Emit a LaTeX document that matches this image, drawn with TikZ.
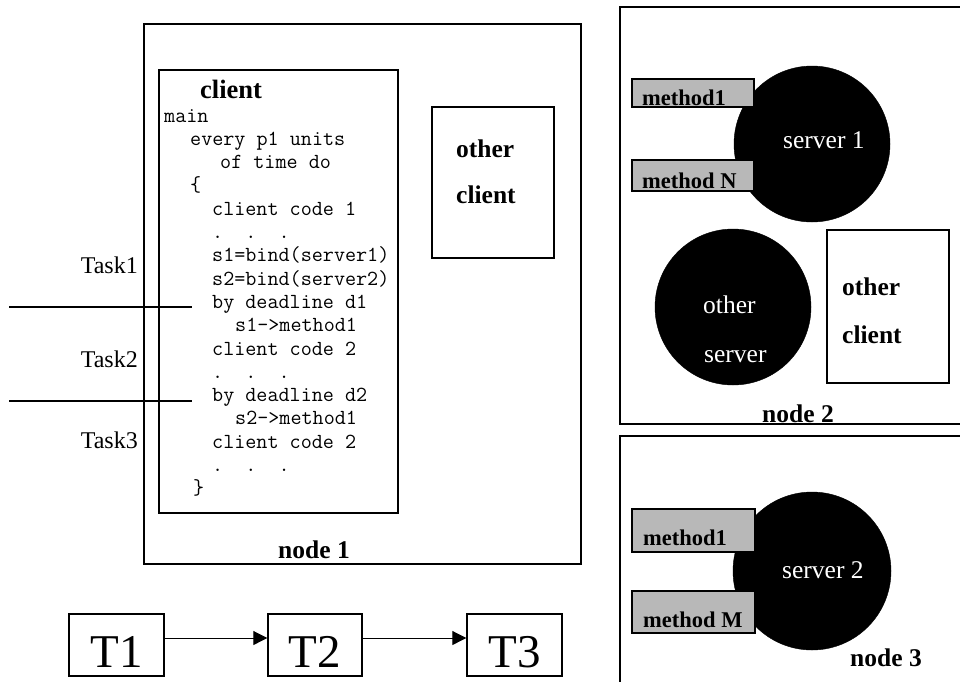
\documentclass[tikz,border=0pt]{standalone}
\usepackage{fontspec}
\setmainfont{Liberation Serif}
\usetikzlibrary{arrows.meta}
\begin{document}
\begin{tikzpicture}[x=1pt,y=-1pt,
  frame/.style={draw=black,line width=2pt,fill=white,inner sep=0pt,rectangle},
  mbox/.style={draw=black,line width=1.6pt,fill=black!28,inner sep=0pt,rectangle},
  tbox/.style={draw=black,line width=1.4pt,fill=white,inner sep=0pt,rectangle,minimum width=95pt,minimum height=62pt},
  srv/.style={circle,fill=black,draw=black,inner sep=0pt},
  lbl/.style={anchor=base west,inner sep=0pt,font=\fontsize{25.5}{25.5}\selectfont\bfseries},
  wlbl/.style={anchor=base west,inner sep=0pt,text=white,font=\fontsize{25.5}{25.5}\selectfont},
  mlbl/.style={anchor=base west,inner sep=0pt,font=\fontsize{22.5}{22.5}\selectfont\bfseries},
  code/.style={anchor=base west,inner sep=0pt,font=\ttfamily\fontsize{21.5}{21.5}\selectfont},
  task/.style={anchor=base east,inner sep=0pt,font=\fontsize{24}{24}\selectfont},
  tlbl/.style={anchor=base,inner sep=0pt,font=\fontsize{47}{47}\selectfont},
  tline/.style={line width=1.5pt},
  tarrow/.style={line width=1pt,-{Triangle[length=14pt,width=14pt]}}
]
\clip (0,0) rectangle (960,681);
\fill[white] (0,0) rectangle (960,681);

% node 1
\node[frame,minimum width=437pt,minimum height=540pt] (n1) at (362.5,294) {};
\node[frame,minimum width=239pt,minimum height=443pt] (cl) at (278.5,291.5) {};
\node[frame,minimum width=122pt,minimum height=151pt] (oc1) at (493,182.5) {};
\node[lbl,font=\fontsize{26.5}{26.5}\selectfont\bfseries] (cltitle) at (200,98) {client};
\node[lbl] (oc1a) at (456,157) {other};
\node[lbl] (oc1b) at (456,203) {client};
\node[lbl] (n1lbl) at (278,558) {node 1};

\node[code] (c1) at (164,122) {main};
\node[code] (c2) at (190,145.3) {every p1 units};
\node[code] (c3) at (220,168.6) {of time do};
\node[code] (c4) at (190,191.9) {\{};
\node[code] (c5) at (212,215.2) {client code 1};
\node[code] (c6) at (212,238.5) {.\ \ .\ \ .};
\node[code] (c7) at (212,261.8) {s1=bind(server1)};
\node[code] (c8) at (212,285.1) {s2=bind(server2)};
\node[code] (c9) at (212,308.4) {by deadline d1};
\node[code] (c10) at (235,331.7) {s1->method1};
\node[code] (c11) at (212,355) {client code 2};
\node[code] (c12) at (212,378.3) {.\ \ .\ \ .};
\node[code] (c13) at (212,401.6) {by deadline d2};
\node[code] (c14) at (235,424.9) {s2->method1};
\node[code] (c15) at (212,448.2) {client code 2};
\node[code] (c16) at (212,471.5) {.\ \ .\ \ .};
\node[code] (c17) at (193,494.8) {\}};

% tasks
\node[task] (task1) at (138,273) {Task1};
\node[task] (task2) at (138,367) {Task2};
\node[task] (task3) at (138,448) {Task3};
\coordinate (l1a) at (9,307);
\coordinate (l1b) at (192,307);
\coordinate (l2a) at (9,401);
\coordinate (l2b) at (192,401);
\draw[tline] (l1a) -- (l1b);
\draw[tline] (l2a) -- (l2b);

% node 2
\node[frame,minimum width=342pt,minimum height=417pt] (n2) at (791,215.5) {};
\node[srv,minimum size=156pt] (s1) at (812,144) {};
\node[mbox,minimum width=122pt,minimum height=28pt] (m21) at (693,93) {};
\node[mbox,minimum width=122pt,minimum height=31pt] (m2n) at (693,175.5) {};
\node[mlbl] at (642,105) {method1};
\node[mlbl] at (642,188) {method N};
\node[wlbl] (s1lbl) at (783,148) {server 1};
\node[srv,minimum size=156pt] (os) at (733,307) {};
\node[wlbl] at (703,313) {other};
\node[wlbl] at (704,362) {server};
\node[frame,minimum width=122pt,minimum height=153pt] (oc2) at (888,306.5) {};
\node[lbl] at (842,295) {other};
\node[lbl] at (842,343) {client};
\node[lbl] (n2lbl) at (762,422) {node 2};

% node 3
\node[frame,minimum width=342pt,minimum height=264pt] (n3) at (791,568) {};
\node[srv,minimum size=158pt] (s2) at (812,571) {};
\node[mbox,minimum width=123pt,minimum height=43pt] (m31) at (693.5,530.5) {};
\node[mbox,minimum width=123pt,minimum height=42pt] (m3m) at (693.5,612) {};
\node[mlbl] at (643,545) {method1};
\node[mlbl] at (643,627) {method M};
\node[wlbl] (s2lbl) at (782,578) {server 2};
\node[lbl] (n3lbl) at (850,666) {node 3};

% T boxes
\node[tbox] (t1) at (116.5,645) {};
\node[tbox,minimum width=94pt] (t2) at (315,645) {};
\node[tbox] (t3) at (514.5,645) {};
\node[tlbl] at (116.5,667) {T1};
\node[tlbl] at (315,667) {T2};
\node[tlbl] at (514.5,667) {T3};
\draw[tarrow] ([yshift=7pt]t1.east) -- ([yshift=7pt]t2.west);
\draw[tarrow] ([yshift=7pt]t2.east) -- ([yshift=7pt]t3.west);
\end{tikzpicture}
\end{document}
